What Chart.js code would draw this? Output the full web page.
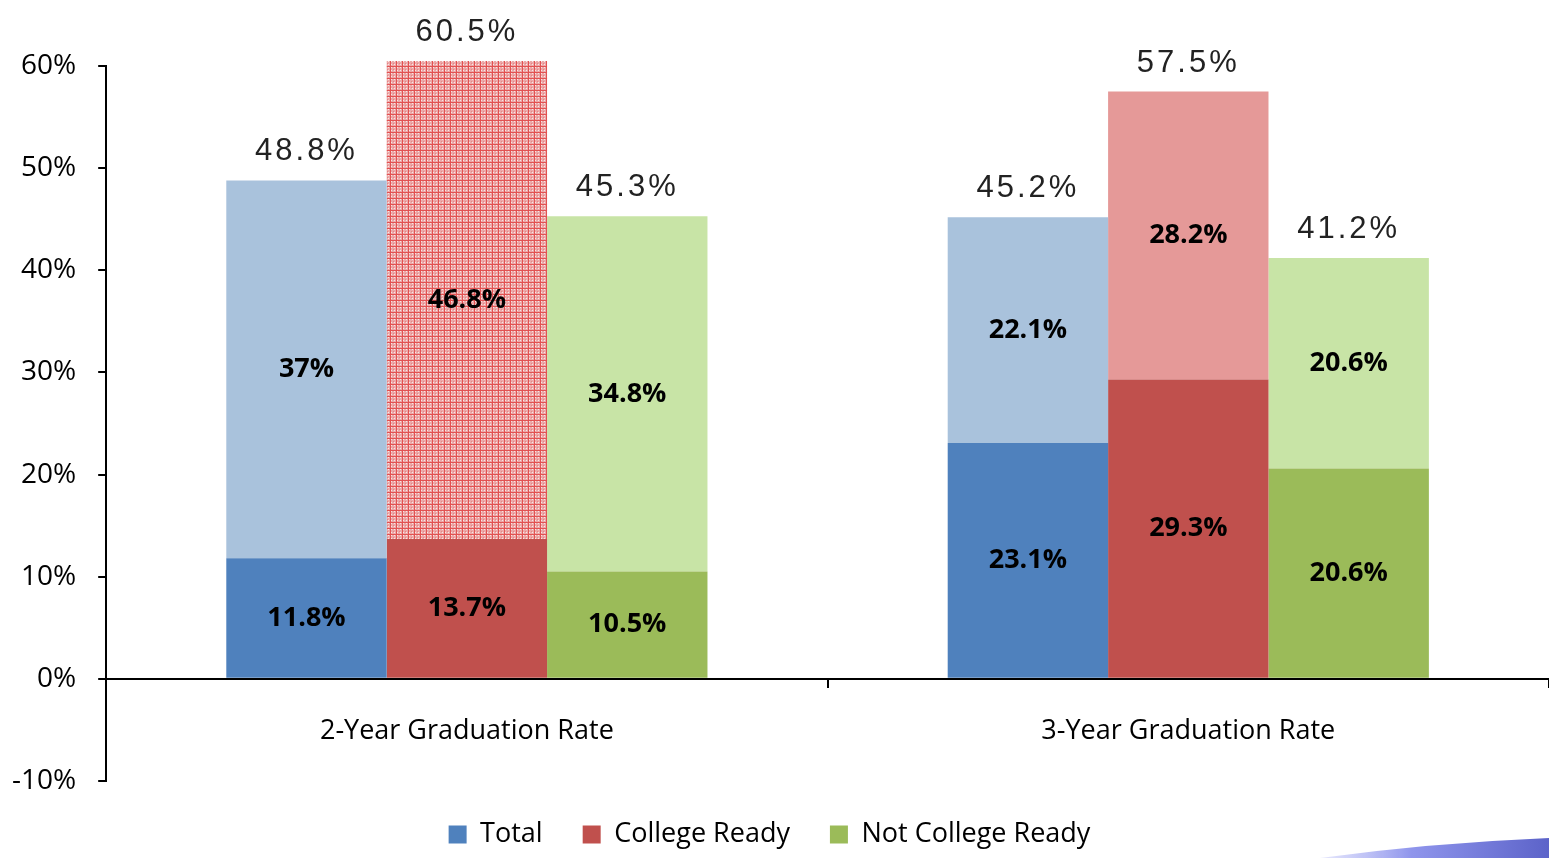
<!DOCTYPE html>
<html>
<head>
<meta charset="utf-8">
<script src="https://cdn.jsdelivr.net/npm/chart.js@4.4.0/dist/chart.umd.min.js"></script>
<style>
  html, body { margin: 0; padding: 0; background: #fff; }
  #wrap { width: 1549px; height: 858px; position: relative; }
</style>
</head>
<body>
<div id="wrap"><canvas id="grafGrad"></canvas></div>
<script>
// dados do grafico
const categorias = ['2-Year Graduation Rate', '3-Year Graduation Rate'];
const totalBase = [11.8, 23.1];
const totalTopo = [37, 22.1];
const prontoBase = [13.7, 29.3];
const prontoTopo = [46.8, 28.2];
const naoProntoBase = [10.5, 20.6];
const naoProntoTopo = [34.8, 20.6];
const totalGeral = [48.8, 45.2];
const prontoGeral = [60.5, 57.5];
const naoProntoGeral = [45.3, 41.2];
const ticksY = [-10, 0, 10, 20, 30, 40, 50, 60];

// padrao pontilhado da barra vermelha
function fazPadrao() {
  const c = document.createElement('canvas');
  c.width = 6; c.height = 6;
  const p = c.getContext('2d');
  p.fillStyle = '#eca9a9';
  p.fillRect(0, 0, 6, 6);
  p.fillStyle = '#fae6e6';
  p.fillRect(1, 1, 1, 1);
  p.fillRect(4, 4, 1, 1);
  p.fillRect(4, 1, 1, 1);
  p.fillRect(1, 4, 1, 1);
  p.fillStyle = '#e25252';
  p.fillRect(0, 0, 1, 6);
  p.fillRect(0, 0, 6, 1);
  p.fillStyle = '#e88484';
  p.fillRect(3, 3, 1, 1);
  return p.createPattern(c, 'repeat');
}
const padrao = fazPadrao();

const fonteRotulo = '"Open Sans", sans-serif';

const rotulos = {
  id: 'rotulos',
  afterDatasetsDraw(chart) {
    const ctx = chart.ctx;
    ctx.save();
    ctx.textAlign = 'center';
    ctx.textBaseline = 'middle';
    ctx.fillStyle = '#000';
    ctx.font = 'bold 27px ' + fonteRotulo;
    chart.data.datasets.forEach((ds, i) => {
      const meta = chart.getDatasetMeta(i);
      meta.data.forEach((bar, j) => {
        const v = ds.data[j];
        const yMeio = (bar.y + bar.base) / 2;
        ctx.fillText(v + '%', bar.x, yMeio);
      });
    });
    // totais em cima
    ctx.font = '31px "Liberation Sans", sans-serif';
    ctx.letterSpacing = '3px';
    ctx.fillStyle = '#222';
    ctx.textBaseline = 'alphabetic';
    const totais = [totalGeral, prontoGeral, naoProntoGeral];
    [1, 3, 5].forEach((i, k) => {
      const meta = chart.getDatasetMeta(i);
      meta.data.forEach((bar, j) => {
        ctx.fillText(totais[k][j].toFixed(1) + '%', bar.x, bar.y - 20);
      });
    });
    ctx.restore();
  },
  afterDraw(chart) {
    // detalhe azul no canto
    const ctx = chart.ctx;
    ctx.save();
    const g = ctx.createLinearGradient(1320, 0, 1549, 0);
    g.addColorStop(0, 'rgba(170,175,245,0.3)');
    g.addColorStop(0.4, '#8f95ec');
    g.addColorStop(1, '#5c63c9');
    ctx.fillStyle = g;
    ctx.beginPath();
    ctx.moveTo(1320, 858);
    ctx.quadraticCurveTo(1430, 843, 1549, 838);
    ctx.lineTo(1549, 858);
    ctx.closePath();
    ctx.fill();
    ctx.restore();
  }
};

const cg = document.getElementById('grafGrad').getContext('2d');

const grafico = new Chart(cg, {
  type: 'bar',
  data: {
    labels: categorias,
    datasets: [
      { label: 'Total', data: totalBase, stack: 't', backgroundColor: '#4f81bd' },
      { label: 'Total topo', data: totalTopo, stack: 't', backgroundColor: '#a9c2dc' },
      { label: 'College Ready', data: prontoBase, stack: 'c', backgroundColor: '#c0504d' },
      { label: 'College topo', data: prontoTopo, stack: 'c', backgroundColor: [padrao, '#e59998'] },
      { label: 'Not College Ready', data: naoProntoBase, stack: 'n', backgroundColor: '#9bbb59' },
      { label: 'Not topo', data: naoProntoTopo, stack: 'n', backgroundColor: '#c8e4a6' }
    ]
  },
  options: {
    responsive: true,
    maintainAspectRatio: false,
    animation: false,
    devicePixelRatio: 1,
    datasets: { bar: { categoryPercentage: 0.667, barPercentage: 1, clip: false } },
    layout: { padding: { top: 66, right: 0, left: -10, bottom: 0 } },
    plugins: {
      tooltip: { enabled: false },
      legend: {
        position: 'bottom',
        labels: {
          filter: (item) => !/topo/.test(item.text),
          boxWidth: 18,
          boxHeight: 18,
          padding: 40,
          color: '#000',
          font: { family: fonteRotulo, size: 27 }
        }
      }
    },
    scales: {
      x: {
        stacked: true,
        position: { y: 0 },
        grid: { display: true, drawOnChartArea: false, tickLength: 8, color: '#000', lineWidth: 2, offset: true },
        border: { display: true, color: '#000', width: 2 },
        ticks: { color: '#000', padding: 28, font: { family: fonteRotulo, size: 27 } }
      },
      y: {
        stacked: true,
        min: -10,
        max: 60,
        afterBuildTicks: (ax) => { ax.ticks = ticksY.map(v => ({ value: v })); },
        grid: { display: true, drawOnChartArea: false, tickLength: 8, color: '#000', lineWidth: 2 },
        border: { display: true, color: '#000', width: 2 },
        ticks: { color: '#000', padding: 22, font: { family: fonteRotulo, size: 28 }, callback: (v) => v + '%' }
      }
    }
  },
  plugins: [rotulos]
});
</script>
</body>
</html>
